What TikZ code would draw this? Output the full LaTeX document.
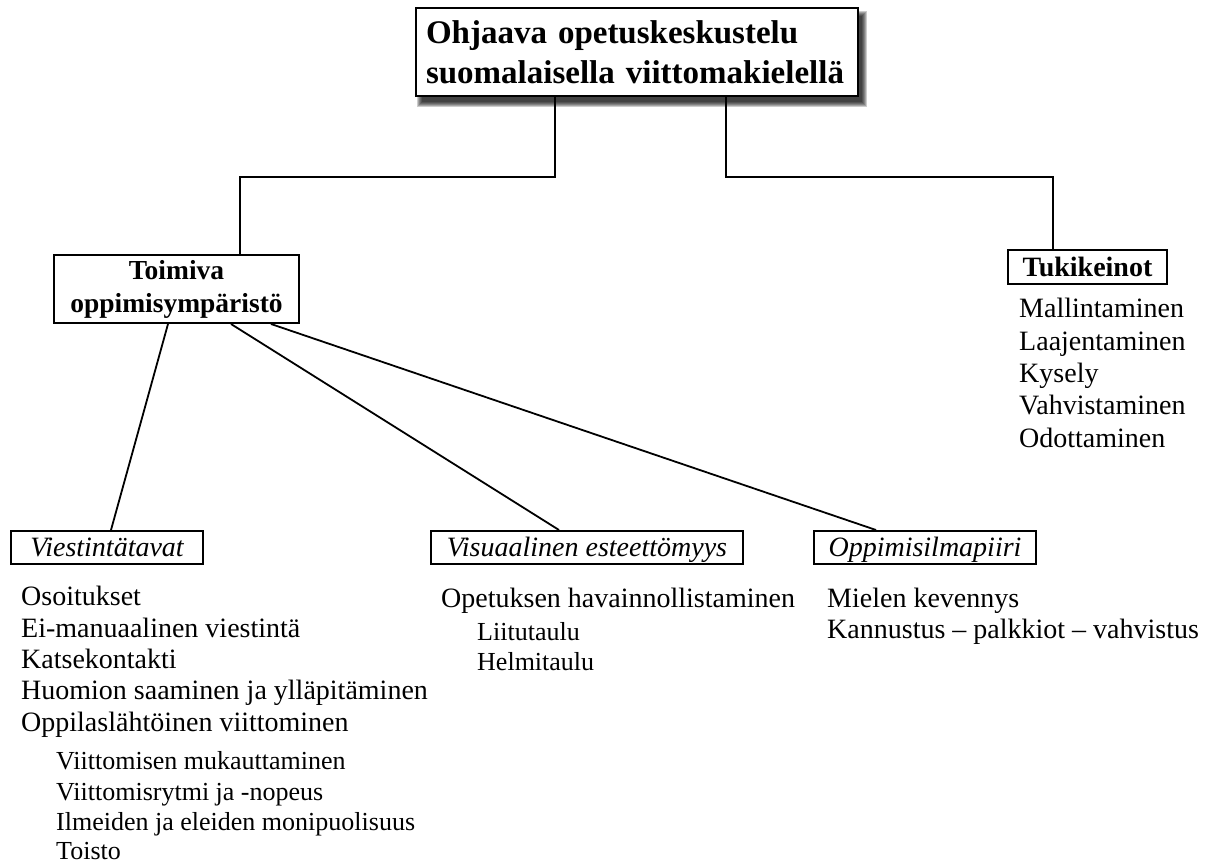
\documentclass[tikz,border=0pt]{standalone}
\usepackage{fontspec}
\setmainfont{Liberation Serif}
\usetikzlibrary{calc}
\pgfdeclarelayer{bg}
\pgfsetlayers{bg,main}
\begin{document}
\begin{tikzpicture}[x=1pt,y=-1pt,
  box/.style={draw, line width=2pt, fill=white, inner ysep=0pt},
  catbox/.style={box, anchor=north west, minimum height=33pt, inner xsep=0pt,
     text height=22pt, text depth=5pt, font=\fontsize{28}{32}\selectfont\itshape},
  conn/.style={line width=1.8pt},
  item/.style={anchor=base west, inner sep=0pt, font=\fontsize{28}{32}\selectfont},
  subitem/.style={anchor=base west, inner sep=0pt, font=\fontsize{26}{30}\selectfont},
]
\useasboundingbox (0,0) rectangle (1209,866);

% main boxes
\node[box, anchor=north west, minimum width=442pt, minimum height=88pt, inner xsep=10pt,
      text width=422pt, align=left, font=\fontsize{33}{40}\selectfont\bfseries]
  (top) at (415,7) {Ohjaava opetuskeskustelu\\suomalaisella viittomakielellä};
\begin{pgfonlayer}{bg}
  \foreach \k in {0,...,5}{
    \pgfmathsetmacro{\e}{3-\k}
    \fill[black, opacity=0.2]
      ([shift={(5-\e,7+\e)}]top.south west) rectangle ([shift={(5+\e,7-\e)}]top.north east);
  }
\end{pgfonlayer}

\node[box, anchor=north west, minimum width=245pt, minimum height=68pt, align=center,
      font=\fontsize{27.5}{33}\selectfont\bfseries]
  (toim) at (53,254) {Toimiva\\oppimisympäristö};

\node[box, anchor=north west, minimum width=159pt, minimum height=34pt, align=center,
      font=\fontsize{28}{32}\selectfont\bfseries]
  (tuki) at (1007,249) {Tukikeinot};

% category boxes
\node[catbox, minimum width=192pt] (viest) at (10,530) {Viestintätavat};
\node[catbox, minimum width=312pt] (visu) at (430,530) {Visuaalinen esteettömyys};
\node[catbox, minimum width=222pt] (oppi) at (813,530) {Oppimisilmapiiri};

% connectors
\draw[conn] ([xshift=-82pt]top.south) -- ++(0,80) -| ([xshift=63.5pt]toim.north);
\draw[conn] ([xshift=89pt]top.south) -- ++(0,80) -| ([xshift=-34.5pt]tuki.north);
\draw[conn] ([xshift=-8.5pt]toim.south) -- ([xshift=4pt]viest.north);
\draw[conn] ([xshift=54.5pt]toim.south) -- ([xshift=-28pt]visu.north);
\draw[conn] ([xshift=94.5pt]toim.south) -- ([xshift=-49pt]oppi.north);

% Tukikeinot list
\node[item] (t1) at (1019,317) {Mallintaminen};
\node[item] (t2) at (1019,350) {Laajentaminen};
\node[item] (t3) at (1019,382) {Kysely};
\node[item] (t4) at (1019,414) {Vahvistaminen};
\node[item] (t5) at (1019,447) {Odottaminen};

% Viestintätavat list
\node[item] (v1) at (21,605) {Osoitukset};
\node[item] (v2) at (21,637) {Ei-manuaalinen viestintä};
\node[item] (v3) at (21,668) {Katsekontakti};
\node[item] (v4) at (21,699) {Huomion saaminen ja ylläpitäminen};
\node[item] (v5) at (21,731) {Oppilaslähtöinen viittominen};
\node[subitem] (v6) at (56,769) {Viittomisen mukauttaminen};
\node[subitem] (v7) at (56,800) {Viittomisrytmi ja -nopeus};
\node[subitem] (v8) at (56,830) {Ilmeiden ja eleiden monipuolisuus};
\node[subitem] (v9) at (56,859) {Toisto};

% Visuaalinen esteettömyys list
\node[item] (s1) at (441,607) {Opetuksen havainnollistaminen};
\node[subitem] (s2) at (477,640) {Liitutaulu};
\node[subitem] (s3) at (477,670) {Helmitaulu};

% Oppimisilmapiiri list
\node[item] (o1) at (827,607) {Mielen kevennys};
\node[item] (o2) at (827,638) {Kannustus – palkkiot – vahvistus};
\end{tikzpicture}
\end{document}
